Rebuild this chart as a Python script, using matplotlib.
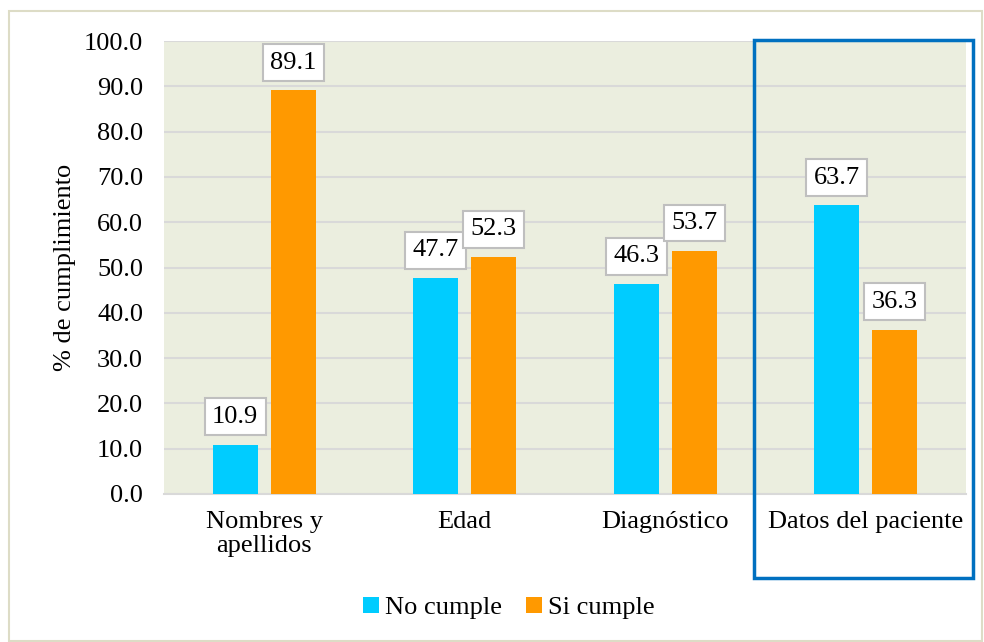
import numpy as np
import matplotlib.pyplot as plt
from matplotlib.patches import Rectangle

plt.rcParams['font.family'] = ['Liberation Serif', 'DejaVu Serif']

categorias = ['Nombres y\napellidos', 'Edad', 'Diagnóstico', 'Datos del paciente']
no_cumple = [10.9, 47.7, 46.3, 63.7]
si_cumple = [89.1, 52.3, 53.7, 36.3]
series = ['No cumple', 'Si cumple']
colores = ['#00CCFF', '#FF9900']

fs = 19

fig = plt.figure(figsize=(9.84, 6.42), dpi=100)
ax = fig.add_axes([164/984, 1-494/642, (966-164)/984, (494-41)/642])
ax.set_facecolor('#EBEEDF')

x = np.arange(len(categorias))
w = 0.225
b1 = ax.bar(x - 0.145, no_cumple, w, color=colores[0], label=series[0], zorder=3)
b2 = ax.bar(x + 0.145, si_cumple, w, color=colores[1], label=series[1], zorder=3)

for bars in (b1, b2):
    for r in bars:
        h = r.get_height()
        ax.annotate('%.1f' % h, (r.get_x() + r.get_width()/2, h),
                    xytext=(0, 20), textcoords='offset points',
                    ha='center', va='center', fontsize=fs, zorder=5,
                    bbox=dict(boxstyle='square,pad=0.28', fc='white', ec='#BFBFBF', lw=1.5))

ax.set_xlim(-0.5, 3.5)
ax.set_ylim(0, 100)
ax.set_yticks(np.arange(0, 101, 10))
ax.set_yticklabels(['%.1f' % v for v in np.arange(0, 101, 10)], fontsize=fs)
ax.set_xticks(x)
ax.set_xticklabels(categorias, fontsize=fs, linespacing=1.15)
ax.tick_params(axis='y', length=0, pad=15)
ax.tick_params(axis='x', length=0, pad=12)
ax.grid(axis='y', color='#D9D9D9', lw=1.5, zorder=0)
for s in ['top', 'right', 'left']:
    ax.spines[s].set_visible(False)
ax.spines['bottom'].set_color('#D9D9D9')
ax.spines['bottom'].set_linewidth(1.5)
ax.set_ylabel('% de cumplimiento', fontsize=fs, labelpad=6)

ax.legend(loc='center', bbox_to_anchor=(509/984, 1-608/642), bbox_transform=fig.transFigure,
          ncol=2, frameon=False, fontsize=fs, handlelength=0.6, handleheight=0.6,
          handletextpad=0.25, columnspacing=0.9)

# recuadro azul
fig.patches.append(Rectangle((754/984, 1-578/642), (973-754)/984, (578-40)/642,
                             transform=fig.transFigure, fill=False, ec='#0070C0', lw=2.5, zorder=10))
# borde de la figura
fig.patches.append(Rectangle((9/984, 1/642), (982-9)/984, (631-1)/642,
                             transform=fig.transFigure, fill=False, ec='#DDDCC6', lw=1.5))

fig.savefig('out.png', dpi=100)
